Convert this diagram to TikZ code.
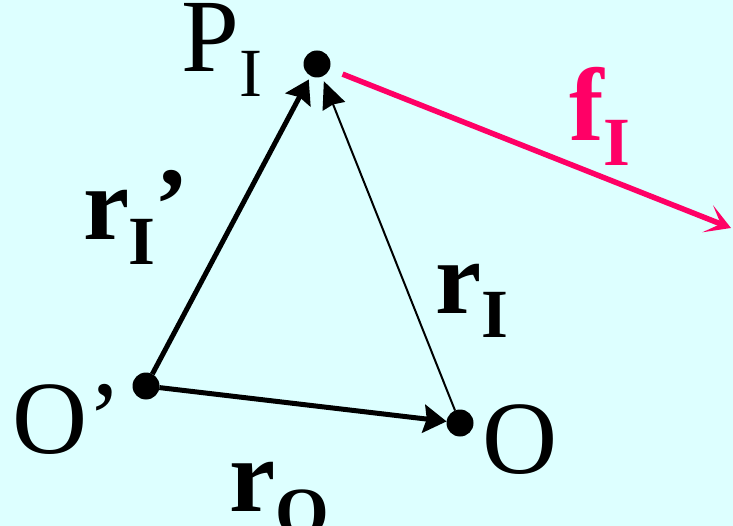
\documentclass[tikz,border=0pt]{standalone}
\usepackage{fontspec}
\setmainfont{Liberation Serif}
\usepackage{xcolor}
\usepackage{tikz}
\usetikzlibrary{arrows.meta, positioning, calc}
\definecolor{paper}{RGB}{221,255,255}
\definecolor{force}{RGB}{255,0,102}
\newcommand{\bigtxt}{\fontsize{104}{110}\selectfont}
\newcommand{\lowsub}[1]{\raisebox{-24.5pt}{\fontsize{69}{69}\selectfont #1}}

\begin{document}
\begin{tikzpicture}[
  x=1pt, y=-1pt,
  dot/.style={circle, fill=black, inner sep=0pt, minimum size=27pt, outer sep=0pt},
  lbl/.style={anchor=base west, inner sep=0pt, font=\bigtxt},
  thickarrow/.style={-{Stealth[length=23pt, width=28pt, inset=3pt]}, line width=5pt},
  thinarrow/.style={-{Stealth[length=27pt, width=24pt, inset=2pt]}, line width=2pt},
  forcearrow/.style={-{Stealth[length=25pt, width=29pt, inset=14pt]}, line width=5.5pt, draw=force, color=force}]

  \fill[paper] (0,0) rectangle (733,526);
  \useasboundingbox (0,0) rectangle (733,526);

  \node[dot] (P) at (317,64) {};
  \node[dot] (Op) at (146,386) {};
  \node[dot] (O) at (460,423) {};
  \coordinate (fend) at (731,228);

  \node[lbl] (Plbl) at (181,72) {P\lowsub{I}};
  \node[lbl] (Oplbl) at (12,453) {O'};
  \node[lbl] (Olbl) at (482,473) {O};
  \node[lbl] (rIp) at (83,240) {\bfseries r\kern-1pt\lowsub{I}\kern-1pt'};
  \node[lbl] (rI) at (435,313) {\bfseries r\lowsub{I}};
  \node[lbl] (rO) at (229,511) {\bfseries r\lowsub{O}};
  \node[lbl, text=force] (fI) at (569,141) {\bfseries f\lowsub{I}};

  \draw[thickarrow, shorten >=4pt] (Op) -- (P);
  \draw[thickarrow] (Op) -- (O);
  \draw[thinarrow, shorten >=5pt] (O) -- (P);
  \draw[forcearrow, shorten <=14pt] (P) -- (fend);
\end{tikzpicture}
\end{document}
